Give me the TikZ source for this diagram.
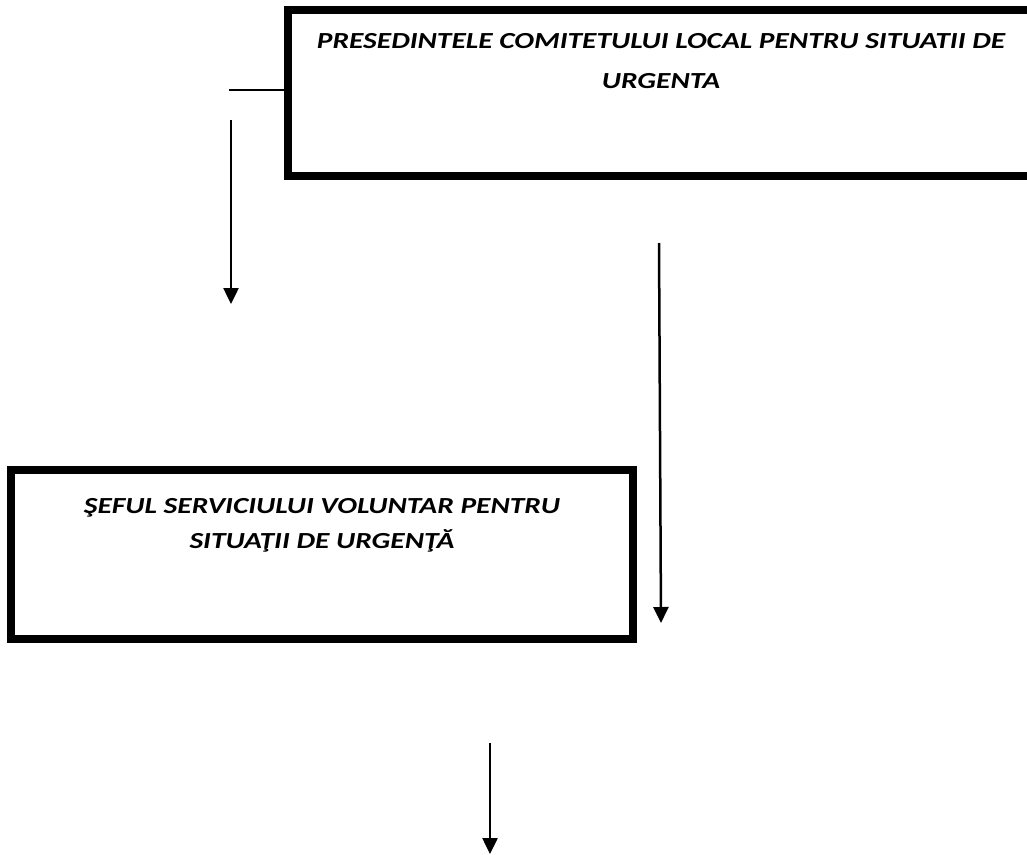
\documentclass[tikz,border=0pt]{standalone}
\usepackage{fontspec}
\setmainfont{Carlito}
\usetikzlibrary{arrows.meta,positioning}

\newcommand{\lat}[1]{\scalebox{1.28}[1]{#1}}

\tikzset{
  caseta/.style={draw,line width=8pt,inner sep=0pt},
  titlu/.style={font=\fontsize{23}{40}\selectfont\bfseries\itshape,align=center,inner sep=0pt,anchor=north},
  sageata/.style={line width=2.5pt,-{Triangle[width=15pt,length=16pt]}}
}

\begin{document}
\begin{tikzpicture}[x=1pt,y=-1pt]
\useasboundingbox (0,0) rectangle (1027,854);
\begin{scope}
\clip (0,0) rectangle (1027,854);
\node[caseta,minimum width=748pt,minimum height=166pt] (presedinte) at (662,93) {};
\end{scope}
\node[titlu] (tpres) at (661,33) {\lat{PRESEDINTELE COMITETULUI LOCAL PENTRU SITUATII DE}\\\lat{URGENTA}};

\node[caseta,minimum width=622pt,minimum height=169pt] (sef) at (322,554.5) {};
\node[titlu,font=\fontsize{23}{35}\selectfont\bfseries\itshape] (tsef) at (322,498) {\lat{ŞEFUL SERVICIULUI VOLUNTAR PENTRU}\\\lat{SITUAŢII DE URGENŢĂ}};

% legaturi
\coordinate (h1) at (229,90);
\draw[line width=2pt] (h1) -- (h1 -| presedinte.west);
\coordinate (a1) at (231,120);
\coordinate (b1) at (231,304);
\draw[sageata] (a1) -- (b1);
\coordinate (a2) at (659,243);
\coordinate (b2) at (661,623);
\draw[sageata] (a2) -- (b2);
\coordinate (a3) at (490,743);
\coordinate (b3) at (490,854);
\draw[sageata] (a3) -- (b3);
\end{tikzpicture}
\end{document}
